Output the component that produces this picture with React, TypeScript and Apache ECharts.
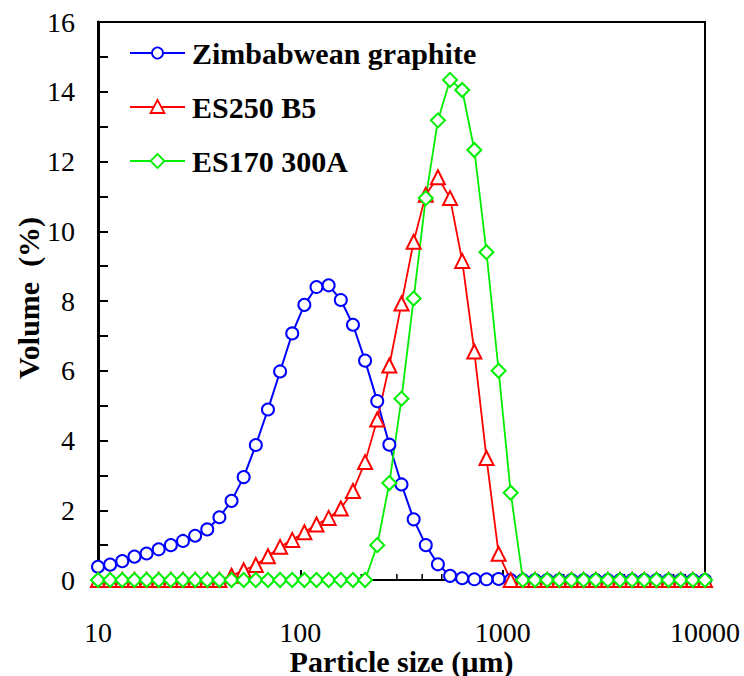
import React, { useEffect, useRef } from "react";
import * as echarts from "echarts";

// particle size channels (µm), log-spaced grid
const sizes = [
  10.0, 11.48, 13.18, 15.14, 17.38, 19.95, 22.91, 26.3, 30.2, 34.67,
  39.81, 45.71, 52.48, 60.26, 69.18, 79.43, 91.2, 104.7, 120.2, 138.0,
  158.5, 182.0, 208.9, 239.9, 275.4, 316.2, 363.1, 416.9, 478.6, 549.5,
  631.0, 724.4, 831.8, 955.0, 1096, 1259, 1445, 1660, 1905, 2188,
  2512, 2884, 3311, 3802, 4365, 5012, 5754, 6607, 7586, 8710, 10000,
];

const zimbabwean = [
  0.38, 0.44, 0.54, 0.67, 0.76, 0.88, 1.0, 1.12, 1.27, 1.45,
  1.8, 2.27, 2.95, 3.87, 4.89, 5.98, 7.07, 7.89, 8.4, 8.45,
  8.03, 7.32, 6.29, 5.13, 3.88, 2.74, 1.74, 1.0, 0.45, 0.12,
  0.05, 0.02, 0.02, 0.03, 0, 0, 0, 0, 0, 0,
  0, 0, 0, 0, 0, 0, 0, 0, 0, 0, 0,
];

const es250 = [
  0, 0, 0, 0, 0, 0, 0, 0, 0, 0,
  0, 0.12, 0.28, 0.43, 0.68, 0.95, 1.15, 1.37, 1.59, 1.78,
  2.05, 2.55, 3.38, 4.6, 6.15, 7.93, 9.7, 11.05, 11.55, 10.95,
  9.15, 6.55, 3.5, 0.75, 0, 0, 0, 0, 0, 0,
  0, 0, 0, 0, 0, 0, 0, 0, 0, 0, 0,
];

const es170 = [
  0, 0, 0, 0, 0, 0, 0, 0, 0, 0,
  0, 0, 0, 0, 0, 0, 0, 0, 0, 0,
  0, 0, 0, 1.0, 2.78, 5.2, 8.07, 10.95, 13.18, 14.34,
  14.05, 12.33, 9.4, 6.0, 2.5, 0, 0, 0, 0, 0,
  0, 0, 0, 0, 0, 0, 0, 0, 0, 0, 0,
];

const seriesNames = ["Zimbabwean graphite", "ES250 B5", "ES170 300A"];
const seriesColors = ["#0000ff", "#ff0000", "#00ee00"];
const xTickLabels = [10, 100, 1000, 10000];
const yTickLabels = [0, 2, 4, 6, 8, 10, 12, 14, 16];
const xMinorTicks = [
  20, 30, 40, 50, 60, 70, 80, 90,
  200, 300, 400, 500, 600, 700, 800, 900,
  2000, 3000, 4000, 5000, 6000, 7000, 8000, 9000,
];
const xTitle = "Particle size (µm)";
const yTitle = "Volume  (%)";

const FONT = "Liberation Serif";

export default function App() {
  const ref = useRef<HTMLDivElement>(null);

  useEffect(() => {
    if (!ref.current) return;
    const chart = echarts.init(ref.current, undefined, { renderer: "svg" });

    const mk = (vals: number[]) => sizes.map((s, i) => [s, vals[i]]);

    const lineSeries = (
      name: string,
      vals: number[],
      color: string,
      symbol: string,
      size: number,
      lw: number
    ) => ({
      name,
      type: "line",
      data: mk(vals),
      symbol,
      symbolSize: size,
      showAllSymbol: true,
      lineStyle: { color, width: lw },
      itemStyle: { color, borderColor: color, borderWidth: 1.8 },
      z: 3,
    });

    chart.setOption({
      animation: false,
      backgroundColor: "#ffffff",
      grid: {
        left: 98,
        right: 39,
        top: 22,
        bottom: 96,
        show: true,
        borderColor: "#000",
        borderWidth: 2,
        backgroundColor: "transparent",
      },
      xAxis: {
        type: "log",
        logBase: 10,
        min: xTickLabels[0],
        max: xTickLabels[xTickLabels.length - 1],
        axisLine: { lineStyle: { color: "#000", width: 2 } },
        axisTick: { inside: true, length: 10, lineStyle: { color: "#000", width: 2 } },
        axisLabel: { show: false },
        splitLine: { show: false },
      },
      yAxis: {
        type: "value",
        min: 0,
        max: 16,
        interval: 2,
        axisLine: { lineStyle: { color: "#000", width: 3 } },
        axisTick: { inside: true, length: 10, lineStyle: { color: "#000", width: 2 } },
        minorTick: { show: true, splitNumber: 2, length: 10, lineStyle: { color: "#000", width: 2 } },
        axisLabel: { show: false },
        splitLine: { show: false },
      },
      series: [
        {
          type: "custom",
          silent: true,
          z: 1,
          data: xMinorTicks.map((v) => [v, 0]),
          renderItem: (params: any, api: any) => {
            const p = api.coord([api.value(0), 0]);
            return {
              type: "line",
              shape: { x1: p[0], y1: p[1], x2: p[0], y2: p[1] - 6 },
              style: { stroke: "#000", lineWidth: 1.5 },
            };
          },
        },
        lineSeries(seriesNames[0], zimbabwean, seriesColors[0], "emptyCircle", 12, 2),
        lineSeries(seriesNames[1], es250, seriesColors[1], "emptyTriangle", 14, 1.8),
        lineSeries(seriesNames[2], es170, seriesColors[2], "emptyDiamond", 14, 1.8),
      ],
    });

    // texts placed through the axes' own scales
    const x0 = chart.convertToPixel({ xAxisIndex: 0 }, xTickLabels[0]) as number;
    const x1 = chart.convertToPixel({ xAxisIndex: 0 }, xTickLabels[xTickLabels.length - 1]) as number;
    const yBottom = chart.convertToPixel({ yAxisIndex: 0 }, yTickLabels[0]) as number;
    const yTop = chart.convertToPixel({ yAxisIndex: 0 }, yTickLabels[yTickLabels.length - 1]) as number;

    const txt = (text: string, x: number, y: number, size: number, bold: boolean, align: string, extra: any = {}) => ({
      type: "text",
      x,
      y,
      silent: true,
      z: 10,
      ...extra,
      style: {
        text,
        fontFamily: FONT,
        fontSize: size,
        fontWeight: bold ? "bold" : "normal",
        fill: "#000",
        align,
        verticalAlign: "middle",
      },
    });

    const graphics: any[] = [];
    xTickLabels.forEach((v) => {
      const px = chart.convertToPixel({ xAxisIndex: 0 }, v) as number;
      graphics.push(txt(String(v), px, yBottom + 52, 28, false, "center"));
    });
    yTickLabels.forEach((v) => {
      const py = chart.convertToPixel({ yAxisIndex: 0 }, v) as number;
      graphics.push(txt(String(v), x0 - 23, py, 28, false, "right"));
    });
    graphics.push(txt(xTitle, (x0 + x1) / 2, yBottom + 81, 30, true, "center"));
    graphics.push(
      txt(yTitle, 28, (yTop + yBottom) / 2 - 3, 30, true, "center", { rotation: Math.PI / 2 })
    );

    // legend
    const legX = x0 + 32;
    const legW = 55;
    const rowY = [53, 107, 161];
    seriesNames.forEach((name, i) => {
      const cy = rowY[i];
      const c = seriesColors[i];
      const cx = legX + legW / 2;
      graphics.push({
        type: "line",
        silent: true,
        z: 10,
        shape: { x1: legX, y1: cy, x2: legX + legW, y2: cy },
        style: { stroke: c, lineWidth: 2 },
      });
      const mstyle = { fill: "#fff", stroke: c, lineWidth: 1.8 };
      if (i === 0) {
        graphics.push({ type: "circle", silent: true, z: 11, shape: { cx, cy, r: 5.5 }, style: mstyle });
      } else if (i === 1) {
        graphics.push({
          type: "polygon",
          silent: true,
          z: 11,
          shape: { points: [[cx, cy - 7], [cx + 7, cy + 6], [cx - 7, cy + 6]] },
          style: mstyle,
        });
      } else {
        graphics.push({
          type: "polygon",
          silent: true,
          z: 11,
          shape: { points: [[cx, cy - 7], [cx + 7, cy], [cx, cy + 7], [cx - 7, cy]] },
          style: mstyle,
        });
      }
      graphics.push(txt(name, legX + legW + 7, cy, 30, true, "left"));
    });

    chart.setOption({ graphic: graphics });

    return () => chart.dispose();
  }, []);

  return <div ref={ref} style={{ width: 744, height: 676, position: "absolute", left: 0, top: 0 }} />;
}
